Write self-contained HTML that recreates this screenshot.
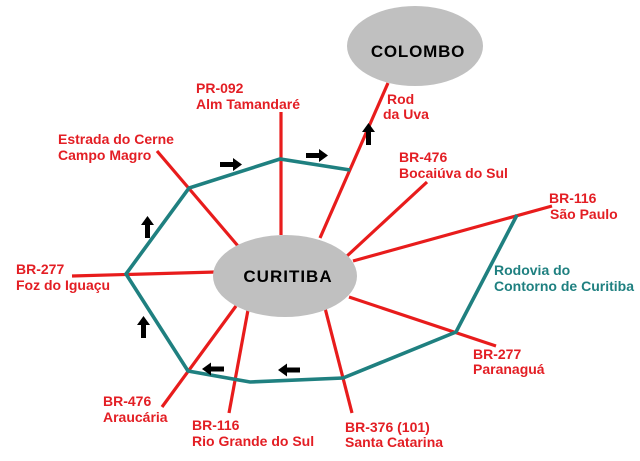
<!DOCTYPE html>
<html><head><meta charset="utf-8"><style>
html,body{margin:0;padding:0;background:#fff;}
svg{display:block;}
text{font-family:"Liberation Sans",Arial,sans-serif;font-weight:bold;}
</style></head><body>
<svg width="640" height="461" viewBox="0 0 640 461" xmlns="http://www.w3.org/2000/svg">
<rect width="640" height="461" fill="#fff"/>
<!-- red roads -->
<g stroke="#e81c1c" stroke-width="3.2" stroke-linecap="butt" fill="none">
<line x1="388" y1="83" x2="320" y2="238"/>
<line x1="281" y1="112" x2="281" y2="235"/>
<line x1="157" y1="151" x2="238" y2="246"/>
<line x1="72" y1="276" x2="216" y2="272"/>
<line x1="162" y1="407" x2="236" y2="306"/>
<line x1="229" y1="413" x2="248" y2="310"/>
<line x1="325" y1="308" x2="352" y2="413"/>
<line x1="349" y1="297" x2="496" y2="346"/>
<line x1="353" y1="261" x2="552" y2="206"/>
<line x1="347" y1="256" x2="427" y2="182"/>
</g>
<!-- teal ring road -->
<polyline points="350,170 280,159 189,188 126,274 188,371 250,382 343,378 456,332 517,215" fill="none" stroke="#1f8080" stroke-width="3.6" stroke-linejoin="miter"/>
<!-- ellipses -->
<ellipse cx="285" cy="276" rx="72" ry="41" fill="#c0c0c0"/>
<ellipse cx="415" cy="46" rx="68" ry="40" fill="#c0c0c0"/>
<text x="288" y="282" font-size="17" text-anchor="middle" fill="#000" letter-spacing="1">CURITIBA</text>
<text x="418" y="57" font-size="17" text-anchor="middle" fill="#000" letter-spacing="0.8">COLOMBO</text>
<!-- arrows -->
<g fill="#000">
<path d="M220,162 L233,162 L233,158 L242,164.5 L233,171 L233,167 L220,167 Z"/>
<path d="M306,153 L319,153 L319,149 L328,155.5 L319,162 L319,158 L306,158 Z"/>
<path d="M224,366.5 L211,366.5 L211,362.5 L202,369 L211,375.5 L211,371.5 L224,371.5 Z"/>
<path d="M300,367.5 L287,367.5 L287,363.5 L278,370 L287,376.5 L287,372.5 L300,372.5 Z"/>
<path d="M366,145 L366,132 L362,132 L368.5,123 L375,132 L371,132 L371,145 Z"/>
<path d="M145,238 L145,225 L141,225 L147.5,216 L154,225 L150,225 L150,238 Z"/>
<path d="M141,338 L141,325 L137,325 L143.5,316 L150,325 L146,325 L146,338 Z"/>
</g>
<!-- labels -->
<g font-size="14" fill="#e31e24">
<text x="196" y="93">PR-092</text>
<text x="196" y="109">Alm Tamandaré</text>
<text x="58" y="144">Estrada do Cerne</text>
<text x="58" y="160">Campo Magro</text>
<text x="387" y="104">Rod</text>
<text x="383" y="119">da Uva</text>
<text x="399" y="162">BR-476</text>
<text x="399" y="178">Bocaiúva do Sul</text>
<text x="549" y="203">BR-116</text>
<text x="550" y="219">São Paulo</text>
<text x="16" y="274">BR-277</text>
<text x="16" y="290">Foz do Iguaçu</text>
<text x="103" y="406">BR-476</text>
<text x="103" y="422">Araucária</text>
<text x="192" y="430">BR-116</text>
<text x="192" y="446">Rio Grande do Sul</text>
<text x="473" y="359">BR-277</text>
<text x="473" y="374">Paranaguá</text>
<text x="345" y="432">BR-376 (101)</text>
<text x="345" y="447">Santa Catarina</text>
</g>
<g font-size="14" fill="#1f8080">
<text x="494" y="275">Rodovia do</text>
<text x="494" y="291">Contorno de Curitiba</text>
</g>
</svg>
</body></html>
